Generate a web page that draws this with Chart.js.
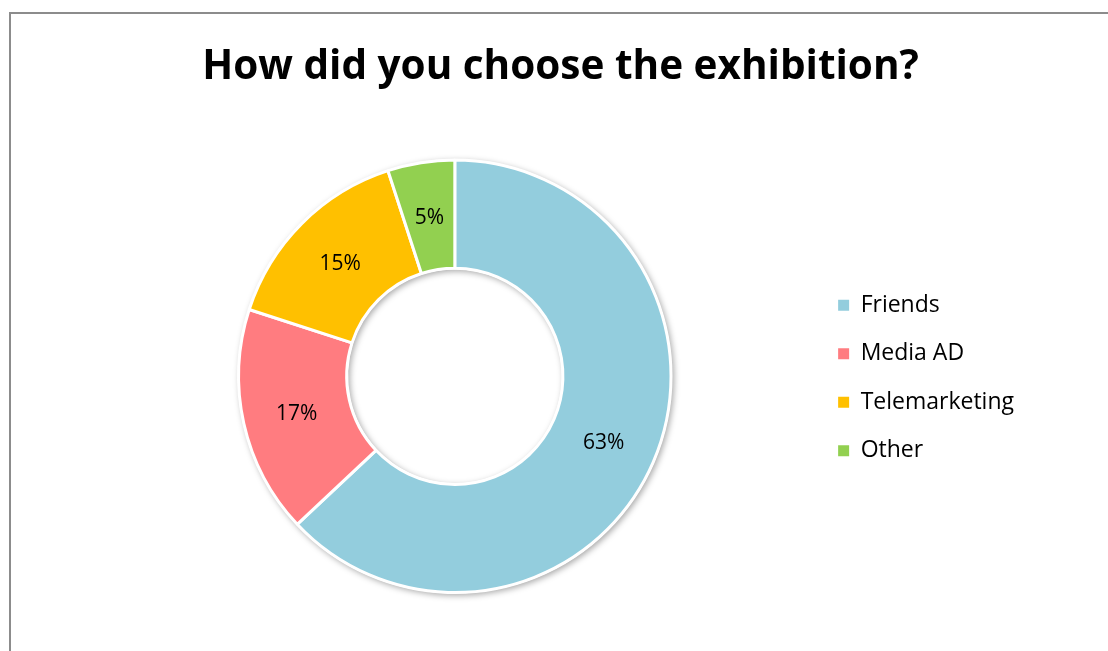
<!DOCTYPE html>
<html>
<head>
<meta charset="utf-8">
<script src="https://cdn.jsdelivr.net/npm/chart.js@4/dist/chart.umd.min.js"></script>
<style>
  html, body { margin: 0; padding: 0; background: #fff; overflow: hidden; }
  .frame {
    position: absolute;
    left: 9px;
    top: 12px;
    width: 1200px;
    height: 700px;
    border: 2px solid #8c8c8c;
  }
  .wrap { position: absolute; left: 0; top: 0; width: 1108px; height: 651px; }
</style>
</head>
<body>
<div class="frame"></div>
<div class="wrap"><canvas id="chart"></canvas></div>
<script>
const titleText = "How did you choose the exhibition?";
const categories = ["Friends", "Media AD", "Telemarketing", "Other"];
const shares = [63, 17, 15, 5];
const sliceColors = ["#93cddd", "#ff7c80", "#ffc000", "#92d050"];

// soft shadow under the ring, drawn once so the white gaps stay clean
const ringShadow = {
  id: "ringShadow",
  beforeDatasetsDraw(chart) {
    const arc = chart.getDatasetMeta(0).data[0];
    if (!arc) return;
    const { x, y, outerRadius, innerRadius } = arc.getProps(["x", "y", "outerRadius", "innerRadius"], true);
    const ctx = chart.ctx;
    ctx.save();
    ctx.shadowColor = "rgba(0, 0, 0, 0.35)";
    ctx.shadowBlur = 6;
    ctx.shadowOffsetX = 2;
    ctx.shadowOffsetY = 2;
    ctx.fillStyle = "#fff";
    ctx.beginPath();
    ctx.arc(x, y, outerRadius + 1, 0, Math.PI * 2);
    ctx.fill();
    ctx.restore();

    ctx.save();
    ctx.beginPath();
    ctx.arc(x, y, innerRadius - 1, 0, Math.PI * 2);
    ctx.clip();
    ctx.shadowColor = "rgba(0, 0, 0, 0.35)";
    ctx.shadowBlur = 6;
    ctx.shadowOffsetX = 2;
    ctx.shadowOffsetY = 2;
    ctx.lineWidth = 10;
    ctx.strokeStyle = "#fff";
    ctx.beginPath();
    ctx.arc(x, y, innerRadius + 4, 0, Math.PI * 2);
    ctx.stroke();
    ctx.restore();
  }
};

const sliceLabels = {
  id: "sliceLabels",
  afterDatasetsDraw(chart) {
    const ctx = chart.ctx;
    const values = chart.data.datasets[0].data;
    const total = values.reduce((a, b) => a + b, 0);
    ctx.save();
    ctx.font = "21px 'Open Sans', sans-serif";
    ctx.fillStyle = "#000";
    ctx.textAlign = "center";
    ctx.textBaseline = "middle";
    chart.getDatasetMeta(0).data.forEach((arc, i) => {
      const pos = arc.tooltipPosition();
      ctx.fillText(Math.round(values[i] / total * 100) + "%", pos.x, pos.y + 2);
    });
    ctx.restore();
  }
};

new Chart(document.getElementById("chart"), {
  type: "doughnut",
  data: {
    labels: categories,
    datasets: [{
      data: shares,
      backgroundColor: sliceColors,
      borderColor: "#fff",
      borderWidth: 3,
      hoverOffset: 0
    }]
  },
  options: {
    responsive: true,
    maintainAspectRatio: false,
    animation: false,
    cutout: "50%",
    layout: { padding: { left: 97, right: 84, top: 0, bottom: 57 } },
    plugins: {
      title: {
        display: true,
        text: titleText,
        color: "#000",
        font: { family: "'Open Sans', sans-serif", size: 40.5, weight: "bold" },
        padding: { top: 43, bottom: 67 }
      },
      legend: {
        position: "right",
        // empty legend title only pushes the entries down to the ring's middle
        title: { display: true, text: "", font: { size: 1 }, padding: { top: 161, bottom: 0 } },
        labels: {
          color: "#000",
          font: { family: "'Open Sans', sans-serif", size: 23 },
          boxWidth: 11,
          boxHeight: 11,
          padding: 25.5,
          generateLabels(chart) {
            return Chart.overrides.doughnut.plugins.legend.labels.generateLabels(chart)
              .map((item) => ({ ...item, lineWidth: 0, strokeStyle: item.fillStyle }));
          }
        }
      },
      tooltip: { enabled: false }
    }
  },
  plugins: [ringShadow, sliceLabels]
});
</script>
</body>
</html>
